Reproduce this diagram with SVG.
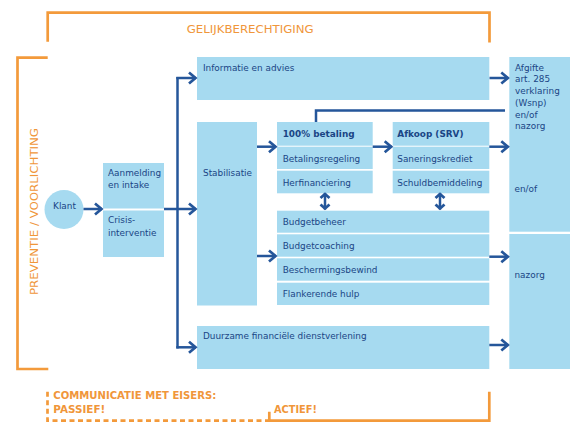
<svg xmlns="http://www.w3.org/2000/svg" width="577" height="429" viewBox="0 0 577 429">
<style>
.box{fill:#A6DAF0}
.t{font-family:"DejaVu Sans",Verdana,sans-serif;font-size:8.9px;fill:#1A4585}
.b{font-weight:bold}
.o{font-family:"DejaVu Sans",Verdana,sans-serif;fill:#F0963A}
.ol{fill:none;stroke:#F39A3B;stroke-width:2.7}
.c{fill:none;stroke:#25569A;stroke-width:2.5}
</style>
<defs>
<marker id="arr" markerUnits="userSpaceOnUse" markerWidth="12" markerHeight="14" viewBox="0 0 12 14" refX="9" refY="7" orient="auto-start-reverse">
<path d="M2,1.5 L8.5,7 L2,12.5" fill="none" stroke="#25569A" stroke-width="2.7"/>
</marker>
<marker id="arr2" markerUnits="userSpaceOnUse" markerWidth="10" markerHeight="12" viewBox="0 0 10 12" refX="7" refY="6" orient="auto-start-reverse">
<path d="M2,1.5 L6,6 L2,10.5" fill="none" stroke="#25569A" stroke-width="2.8"/>
</marker>
</defs>
<rect width="577" height="429" fill="#fff"/>

<g id="frames">
<path class="ol" d="M47.7,41.7 V12.7 H489.5 V42.5"/>
<path class="ol" d="M47.7,57.7 H17.5 V369 H48.3"/>
<path class="ol" d="M47.5,391.7 V420.7 H269.3" stroke-dasharray="5 3.5"/>
<path class="ol" d="M269.3,411.7 V420.7 H489.3 V391.7"/>
<text class="o" x="186.7" y="33.3" font-size="11.2" textLength="127" lengthAdjust="spacingAndGlyphs">GELIJKBERECHTIGING</text>
<text class="o" transform="translate(38,295) rotate(-90)" font-size="11.2" textLength="167" lengthAdjust="spacingAndGlyphs">PREVENTIE / VOORLICHTING</text>
<text class="o b" x="53.3" y="399" font-size="10.3" textLength="163" lengthAdjust="spacingAndGlyphs">COMMUNICATIE MET EISERS:</text>
<text class="o b" x="53.3" y="412.7" font-size="10.3" textLength="52" lengthAdjust="spacingAndGlyphs">PASSIEF!</text>
<text class="o b" x="274" y="413" font-size="10.3" textLength="43" lengthAdjust="spacingAndGlyphs">ACTIEF!</text>
</g>

<g id="klant">
<circle class="box" cx="64" cy="209.5" r="19.5"/>
<text class="t" x="64.5" y="208.8" text-anchor="middle" font-size="9.2">Klant</text>
</g>

<g id="aanmelding">
<rect class="box" x="103" y="163" width="61" height="45.5"/>
<text class="t" x="108" y="176">Aanmelding</text>
<text class="t" x="108" y="187.5">en intake</text>
</g>

<g id="crisis">
<rect class="box" x="103" y="210.5" width="61" height="46.5"/>
<text class="t" x="108" y="223.3">Crisis-</text>
<text class="t" x="108" y="235.5">interventie</text>
</g>

<g id="informatie">
<rect class="box" x="197" y="57" width="292.3" height="43"/>
<text class="t" x="203" y="70.5">Informatie en advies</text>
</g>

<g id="stabilisatie">
<rect class="box" x="197" y="122" width="60" height="183.5"/>
<text class="t" x="203" y="176">Stabilisatie</text>
</g>

<g id="betaling">
<rect class="box" x="277" y="122" width="95.7" height="23.7"/>
<rect class="box" x="277" y="146.7" width="95.7" height="22.3"/>
<rect class="box" x="277" y="170.7" width="95.7" height="22.6"/>
<text class="t b" x="282.7" y="136.7">100% betaling</text>
<text class="t" x="282.7" y="161.7">Betalingsregeling</text>
<text class="t" x="282.7" y="186">Herfinanciering</text>
</g>

<g id="afkoop">
<rect class="box" x="392.7" y="122" width="96.6" height="23.7"/>
<rect class="box" x="392.7" y="146.7" width="96.6" height="22.3"/>
<rect class="box" x="392.7" y="170.7" width="96.6" height="22.6"/>
<text class="t b" x="397.3" y="136.7">Afkoop (SRV)</text>
<text class="t" x="397.3" y="161.7">Saneringskrediet</text>
<text class="t" x="397.3" y="186">Schuldbemiddeling</text>
</g>

<g id="budget">
<rect class="box" x="277" y="210.7" width="212.3" height="22"/>
<rect class="box" x="277" y="234.3" width="212.3" height="22.4"/>
<rect class="box" x="277" y="258.3" width="212.3" height="22.4"/>
<rect class="box" x="277" y="282.7" width="212.3" height="22.3"/>
<text class="t" x="282.7" y="225">Budgetbeheer</text>
<text class="t" x="282.7" y="249">Budgetcoaching</text>
<text class="t" x="282.7" y="273.3">Beschermingsbewind</text>
<text class="t" x="282.7" y="297.3">Flankerende hulp</text>
</g>

<g id="duurzame">
<rect class="box" x="197" y="326" width="292.3" height="43"/>
<text class="t" x="203" y="338.5">Duurzame financiële dienstverlening</text>
</g>

<g id="afgifte">
<rect class="box" x="509.3" y="57" width="60.7" height="174.7"/>
<text class="t" x="515" y="70.5">Afgifte</text>
<text class="t" x="515" y="82">art. 285</text>
<text class="t" x="515" y="93.7">verklaring</text>
<text class="t" x="515" y="105.5">(Wsnp)</text>
<text class="t" x="515" y="117.5">en/of</text>
<text class="t" x="515" y="129.2">nazorg</text>
<text class="t" x="514.5" y="191.7">en/of</text>
</g>

<g id="nazorg">
<rect class="box" x="509.3" y="234" width="60.7" height="135"/>
<text class="t" x="514.5" y="277.7">nazorg</text>
</g>

<g id="connectors">
<path class="c" d="M83.5,209 H102" marker-end="url(#arr)"/>
<path class="c" d="M164,209 H196" marker-end="url(#arr)"/>
<path class="c" d="M177.5,77 V348.5"/>
<path class="c" d="M176.3,78 H196" marker-end="url(#arr)"/>
<path class="c" d="M176.3,347.3 H196" marker-end="url(#arr)"/>
<path class="c" d="M257,146.7 H276" marker-end="url(#arr)"/>
<path class="c" d="M372.7,146.7 H391.7" marker-end="url(#arr)"/>
<path class="c" d="M489.3,146.7 H508.3" marker-end="url(#arr)"/>
<path class="c" d="M257,256 H276" marker-end="url(#arr)"/>
<path class="c" d="M489.3,256.7 H508.3" marker-end="url(#arr)"/>
<path class="c" d="M489.3,345 H508.3" marker-end="url(#arr)"/>
<path class="c" d="M489.5,78 H508.3" marker-end="url(#arr)"/>
<path class="c" d="M316,122 V110.5 H505"/>
<path class="c" d="M325,193 V209.5" marker-start="url(#arr2)" marker-end="url(#arr2)"/>
<path class="c" d="M440,193 V209.5" marker-start="url(#arr2)" marker-end="url(#arr2)"/>
</g>
</svg>
